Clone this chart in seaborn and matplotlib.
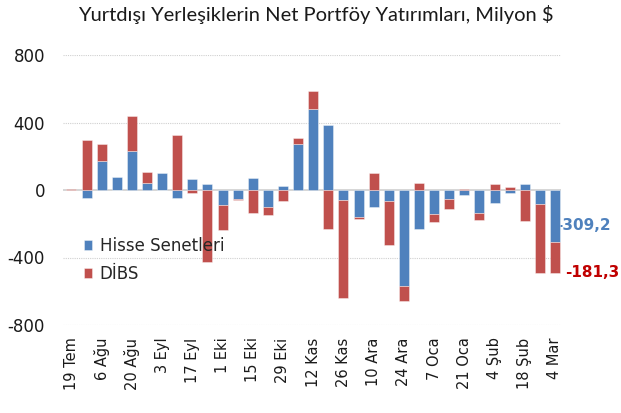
import numpy as np
import matplotlib
matplotlib.use('Agg')
import matplotlib.pyplot as plt
import seaborn as sns

# haftalık veriler (milyon $)
hisse = [0, -49, 170, 79, 229, 41, 101, -49, 65, 38, -89, -51, 71, -101, 26, 275, 480,
         385, -61, -160, -101, -67, -567, -229, -142, -55, -32, -136, -79, -20, 38, -83, -309.2]
dibs = [8, 298, 105, 0, 210, 66, 0, 328, -16, -427, -148, -10, -136, -47, -67, 33, 109,
        -229, -579, -12, 101, -261, -93, 41, -48, -60, 8, -44, 38, 20, -186, -409, -181.3]
tick_labels = ['19 Tem', '6 Ağu', '20 Ağu', '3 Eyl', '17 Eyl', '1 Eki', '15 Eki', '29 Eki',
               '12 Kas', '26 Kas', '10 Ara', '24 Ara', '7 Oca', '21 Oca', '4 Şub', '18 Şub', '4 Mar']
y_ticks = [-800, -400, 0, 400, 800]

blue = '#4F81BD'
red = '#C0504D'

sns.set_style('white')
plt.rcParams['font.family'] = ['DejaVu Sans']

idx = np.arange(len(hisse))
hisse_arr = np.array(hisse)
dibs_arr = np.array(dibs)
# excel gibi: pozitifler pozitiflerin üstüne, negatifler negatiflerin altına
bottom = np.where(np.sign(hisse_arr) == np.sign(dibs_arr), hisse_arr, 0)

fig = plt.figure(figsize=(6.21, 4.13), dpi=100)
ax = fig.add_axes([63 / 621, 1 - 325 / 413, 498 / 621, 270 / 413])

edge = (1, 1, 1, 0.45)
sns.barplot(x=idx, y=hisse, color=blue, saturation=1, width=0.66, errorbar=None,
            edgecolor=edge, linewidth=0.6, label='Hisse Senetleri', ax=ax, zorder=3)
sns.barplot(x=idx, y=dibs, color=red, saturation=1, width=0.66, errorbar=None,
            bottom=bottom, edgecolor=edge, linewidth=0.6, label='DİBS', ax=ax, zorder=3)

ax.set_xlim(-0.56, len(hisse) - 0.6)
ax.set_ylim(-800, 800)
ax.set_yticks(y_ticks)
ax.set_yticklabels([str(v) for v in y_ticks], fontsize=12, color='#1a1a1a')
ax.set_xticks(idx[::2])
ax.set_xticklabels(tick_labels, rotation=90, fontsize=10.5, color='#1a1a1a')
ax.tick_params(axis='y', length=0, pad=13)
ax.tick_params(axis='x', length=0, pad=9)
ax.set(xlabel='', ylabel='')

for v in [-800, -400, 400, 800]:
    ax.axhline(v, color='#d0d0d0', lw=0.8, ls=(0, (1, 1)), zorder=1)
ax.axhline(0, color='#d0d0d0', lw=1.2, zorder=2)
sns.despine(ax=ax, left=True, bottom=True)

# son hafta etiketleri
last = len(hisse) - 1
ax.text(last + 0.1, hisse[-1] * 0.68, f'{hisse[-1]:.1f}'.replace('.', ','), color=blue,
        fontsize=11, fontweight='bold', va='center', ha='left', zorder=1)
ax.text(last + 0.66, hisse[-1] + dibs[-1] * 1.0, f'{dibs[-1]:.1f}'.replace('.', ','),
        color='#C00000', fontsize=11, fontweight='bold', va='center', ha='left', zorder=1)

ax.legend(loc='upper left', bbox_to_anchor=(84 / 621, 1 - 237 / 413),
          bbox_transform=fig.transFigure, frameon=False, fontsize=12,
          handlelength=0.5, handleheight=0.5, handletextpad=0.45,
          labelspacing=0.6, borderpad=0, borderaxespad=0)

fig.text(0.508, 1 - 15 / 413, 'Yurtdışı Yerleşiklerin Net Portföy Yatırımları, Milyon $',
         ha='center', va='center', fontsize=14.5, family=['Lato', 'DejaVu Sans'], color='#1a1a1a')

plt.savefig('out.png', dpi=100)
